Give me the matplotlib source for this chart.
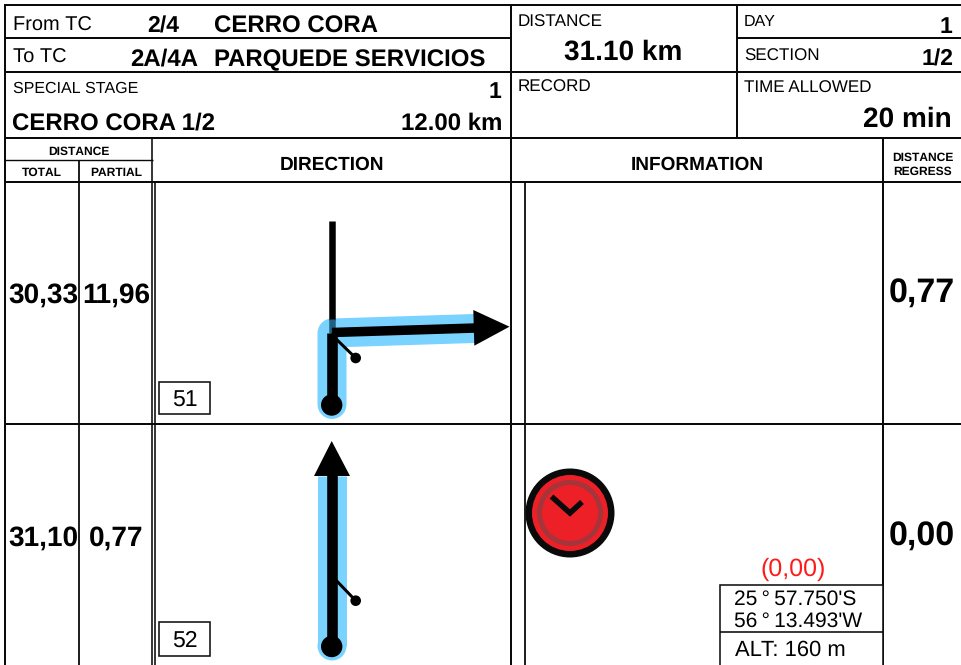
import matplotlib
matplotlib.use("Agg")
import matplotlib.pyplot as plt
from matplotlib.patches import Circle, Polygon, Rectangle

plt.rcParams['font.family'] = ['Liberation Sans', 'DejaVu Sans']
plt.rcParams['text.hinting'] = 'no_hinting'
plt.rcParams['text.hinting_factor'] = 1

W, H = 962, 665
totals = ["30,33", "31,10"]
partials = ["11,96", "0,77"]
regress = ["0,77", "0,00"]
box_numbers = ["51", "52"]
from_tc = ["2/4", "CERRO CORA"]
to_tc = ["2A/4A", "PARQUEDE SERVICIOS"]
stage = ["CERRO CORA 1/2", "12.00 km"]
coords = ["25\u2009°\u200957.750'S", "56\u2009°\u200913.493'W"]
altitude = "ALT: 160 m"
cap_value = "(0,00)"

fig = plt.figure(figsize=(W / 100, H / 100), dpi=100)
ax = fig.add_axes([0, 0, 1, 1])
ax.set_xlim(0, W)
ax.set_ylim(H, 0)
ax.axis('off')

BLUE = '#7ad3ff'
px = 0.72


def T(x, y, s, size, bold=False, ha='left', color='black'):
    ax.text(x, y, s, fontsize=size * px, fontweight='bold' if bold else 'normal',
            ha=ha, va='baseline', color=color, zorder=10)


def L(x0, y0, x1, y1, lw=1.6, z=5):
    ax.plot([x0, x1], [y0, y1], color='#0a0a0a', lw=lw * px,
            solid_capstyle='butt', zorder=z)


# Grid rules
L(4, 4.5, W, 4.5, 2)
L(5, 4, 5, H, 2)
L(5, 38, 511, 38, 2)
L(737, 38, W, 38, 2)
L(5, 71.5, W, 71.5, 2)
L(5, 138, W, 138, 2)
L(5, 160, 153, 160, 1.4)
L(5, 181.5, W, 181.5, 2)
L(5, 424, W, 424, 2)
L(511, 4, 511, H, 2)
L(737, 4, 737, 138, 2)
L(883, 138, 883, H, 2)
L(79, 160, 79, H, 1.8)
L(152.5, 138, 152.5, H, 1.6)
L(155.5, 181, 155.5, H, 1.6)
L(525, 181, 525, H, 1.8)

# Header text
T(13, 31, "From TC", 20.5)
T(147, 33, from_tc[0], 23.5, True)
T(214, 33, from_tc[1], 23.7, True)
T(13, 63, "To TC", 20.5)
T(130, 66, to_tc[0], 24, True)
T(214, 66, to_tc[1], 23.7, True)
T(13, 93, "SPECIAL STAGE", 16.4)
T(501, 98, "1", 23.5, True, 'right')
T(12, 130, stage[0], 23.7, True)
T(502, 130, stage[1], 23.7, True, 'right')
T(518, 26.5, "DISTANCE", 16.5)
T(623, 60, "31.10 km", 28, True, 'center')
T(518, 91.5, "RECORD", 16.7)
T(744, 26, "DAY", 16)
T(952, 33, "1", 23.5, True, 'right')
T(744, 60.5, "SECTION", 16.6)
T(954, 66, "1/2", 23.5, True, 'right')
T(744, 93, "TIME ALLOWED", 16.6)
T(952, 127, "20 min", 28, True, 'right')
T(79, 155, "DISTANCE", 12, True, 'center')
T(42, 176, "TOTAL", 12, True, 'center')
T(116, 176, "PARTIAL", 12, True, 'center')
T(332, 170, "DIRECTION", 19, True, 'center')
T(697, 170, "INFORMATION", 19, True, 'center')
T(923, 161, "DISTANCE", 12, True, 'center')
T(923, 175, "REGRESS", 12, True, 'center')

# Row values
T(8, 303, totals[0], 28.2, True)
T(82, 303, partials[0], 28.2, True)
T(889, 303, regress[0], 34.5, True)
T(8, 546, totals[1], 28.2, True)
T(89, 546, partials[1], 28.2, True)
T(889, 546, regress[1], 34.5, True)

# Numbered boxes
for y, h, label in zip((382, 622), (32, 34), box_numbers):
    ax.add_patch(Rectangle((159, y), 51, h, fc='white', ec='#111111', lw=1.6 * px, zorder=6))
    T(184.5, y + 24.5, label, 23.5, False, 'center')

# Diagram 1: blue highlight
ax.plot([332, 332, 474], [404.5, 333, 328.5], color=BLUE, lw=29 * px,
        solid_capstyle='round', solid_joinstyle='round', zorder=2)
ax.plot([332, 332], [221, 320], color='black', lw=6.5 * px, solid_capstyle='butt', zorder=3)
ax.plot([332, 332], [319, 333], color='#1f5f82', lw=6.5 * px, solid_capstyle='butt', zorder=3.1)
ax.plot([332, 332], [333, 405], color='black', lw=10.6 * px, solid_capstyle='butt', zorder=4)
ax.plot([332, 476], [332.5, 328], color='black', lw=9.5 * px, solid_capstyle='butt', zorder=4)
ax.add_patch(Polygon([[473.3, 310], [509.5, 326.7], [474.3, 345.7]], fc='black', ec='none', zorder=4))
ax.plot([332, 355.7], [335, 358], color='black', lw=3 * px, zorder=4)
ax.add_patch(Circle((355.7, 358), 5.3, fc='black', ec='none', zorder=4))
ax.add_patch(Circle((331.7, 405), 10.7, fc='black', ec='none', zorder=4))

# Diagram 2
ax.plot([332, 332], [646, 476], color=BLUE, lw=29 * px,
        solid_capstyle='butt', zorder=2)
ax.add_patch(Circle((332, 646), 14.5, fc=BLUE, ec='none', zorder=2))
ax.plot([332, 332], [645, 470], color='black', lw=10.6 * px, solid_capstyle='butt', zorder=4)
ax.add_patch(Polygon([[314, 476], [331.7, 441], [350, 476]], fc='black', ec='none', zorder=4))
ax.plot([332, 355.7], [576, 600.7], color='black', lw=3 * px, zorder=4)
ax.add_patch(Circle((355.7, 600.7), 5.3, fc='black', ec='none', zorder=4))
ax.add_patch(Circle((331.7, 646.5), 10.7, fc='black', ec='none', zorder=4))

# Clock-like control symbol
ax.add_patch(Circle((570, 513), 44.5, fc='#0a0a0a', ec='none', zorder=4))
ax.add_patch(Circle((570, 513), 38, fc='#ee2027', ec='none', zorder=5))
ax.add_patch(Circle((570, 513), 30.5, fc='#ee2027', ec='#a5353a', lw=5 * px, zorder=6))
ax.plot([551.5, 570, 582], [496.5, 513, 502], color='#0a0a0a', lw=5.5 * px,
        solid_joinstyle='miter', solid_capstyle='butt', zorder=7)

# Coordinate box
T(793.5, 576, cap_value, 25, False, 'center', '#ff1a1a')
ax.add_patch(Rectangle((720, 585), 163, 90, fc='white', ec='#111111', lw=1.6 * px, zorder=6))
L(720, 631.5, 883, 631.5, 1.6, 7)
T(734, 605, coords[0], 21)
T(734, 627, coords[1], 21)
T(735, 656, altitude, 22)

fig.savefig('out.png', dpi=100, facecolor='white')
